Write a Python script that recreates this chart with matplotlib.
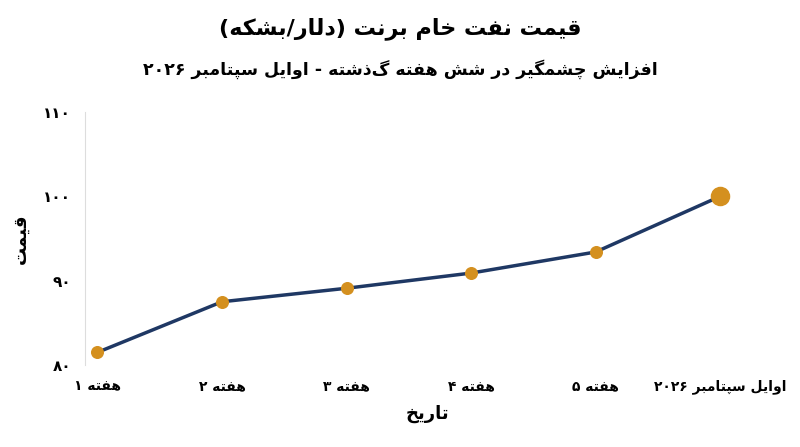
import matplotlib
matplotlib.use("Agg")
import matplotlib.pyplot as plt

categories = ["هفته ۱", "هفته ۲", "هفته ۳", "هفته ۴", "هفته ۵", "اوایل سپتامبر ۲۰۲۶"]
prices = [81.5, 87.5, 89.1, 90.9, 93.4, 100.0]
yticks = [80, 90, 100, 110]
title = "قیمت نفت خام برنت (دلار/بشکه)"
subtitle = "افزایش چشمگیر در شش هفته گذشته - اوایل سپتامبر ۲۰۲۶"
xlabel = "تاریخ"
ylabel = "قیمت"

FORMS = {  # iso, fin, init, med
    'ا': (0xFE8D, 0xFE8E, None, None), 'ب': (0xFE8F, 0xFE90, 0xFE91, 0xFE92),
    'ت': (0xFE95, 0xFE96, 0xFE97, 0xFE98), 'خ': (0xFEA5, 0xFEA6, 0xFEA7, 0xFEA8),
    'د': (0xFEA9, 0xFEAA, None, None), 'ر': (0xFEAD, 0xFEAE, None, None),
    'ز': (0xFEAF, 0xFEB0, None, None), 'س': (0xFEB1, 0xFEB2, 0xFEB3, 0xFEB4),
    'ش': (0xFEB5, 0xFEB6, 0xFEB7, 0xFEB8), 'ف': (0xFED1, 0xFED2, 0xFED3, 0xFED4),
    'ق': (0xFED5, 0xFED6, 0xFED7, 0xFED8), 'ل': (0xFEDD, 0xFEDE, 0xFEDF, 0xFEE0),
    'م': (0xFEE1, 0xFEE2, 0xFEE3, 0xFEE4), 'ن': (0xFEE5, 0xFEE6, 0xFEE7, 0xFEE8),
    'ه': (0xFEE9, 0xFEEA, 0xFEEB, 0xFEEC), 'و': (0xFEED, 0xFEEE, None, None),
    'پ': (0xFB56, 0xFB57, 0xFB58, 0xFB59), 'چ': (0xFB7A, 0xFB7B, 0xFB7C, 0xFB7D),
    'ک': (0xFB8E, 0xFB8F, 0xFB90, 0xFB91), 'گ': (0xFB92, 0xFB93, 0xFB94, 0xFB95),
    'ی': (0xFBFC, 0xFBFD, 0xFBFE, 0xFBFF),
}
DIGITS = set("۰۱۲۳۴۵۶۷۸۹0123456789")

def shape(s):
    out = []
    n = len(s)
    for i, c in enumerate(s):
        if c not in FORMS:
            out.append(c); continue
        f = FORMS[c]
        prev = s[i-1] if i > 0 else ''
        nxt = s[i+1] if i < n-1 else ''
        jp = prev in FORMS and FORMS[prev][2] is not None
        jn = f[2] is not None and nxt in FORMS
        if jp and jn: cp = f[3]
        elif jp: cp = f[1]
        elif jn: cp = f[2]
        else: cp = f[0]
        out.append(chr(cp))
    r = ''.join(out)[::-1]
    mirror = {'(': ')', ')': '('}
    r = ''.join(mirror.get(c, c) for c in r)
    res, run = [], []
    for c in r:
        if c in DIGITS:
            run.append(c)
        else:
            res.extend(run[::-1]); run = []; res.append(c)
    res.extend(run[::-1])
    return ''.join(res)

def fa_num(v):
    return ''.join("۰۱۲۳۴۵۶۷۸۹"[int(d)] for d in str(v))

plt.rcParams['font.family'] = ['DejaVu Sans']
fig = plt.figure(figsize=(8, 4.47), dpi=100)
ax = fig.add_axes([85/800, 82/447, 685/800, 253/447])
x = list(range(len(prices)))
navy = '#1f3864'
orange = '#d4901f'
ax.plot(x, prices, color=navy, lw=2.5, zorder=2)
ax.scatter(x[:-1], prices[:-1], s=70, color=orange, zorder=3)
ax.scatter(x[-1:], prices[-1:], s=170, color=orange, zorder=3)
ax.set_xlim(-0.1, 5.4)
ax.set_ylim(80, 110)
ax.set_yticks(yticks)
ax.set_yticklabels([fa_num(v) for v in yticks], fontsize=11, fontweight='bold')
ax.set_xticks(x)
ax.set_xticklabels([shape(c) for c in categories], fontsize=10, fontweight='bold')
ax.tick_params(length=0, pad=10)
for sp in ['top', 'right', 'bottom']:
    ax.spines[sp].set_visible(False)
ax.spines['left'].set_color('#dddddd')
ax.set_xlabel(shape(xlabel), fontsize=13, fontweight='bold', labelpad=8)
ax.set_ylabel(shape(ylabel), fontsize=13, fontweight='bold', labelpad=10)
fig.text(0.5, 0.935, shape(title), ha='center', va='center', fontsize=16, fontweight='bold')
fig.text(0.5, 0.845, shape(subtitle), ha='center', va='center', fontsize=12.5, fontweight='bold')
fig.savefig('out.png', dpi=100, facecolor='white')
